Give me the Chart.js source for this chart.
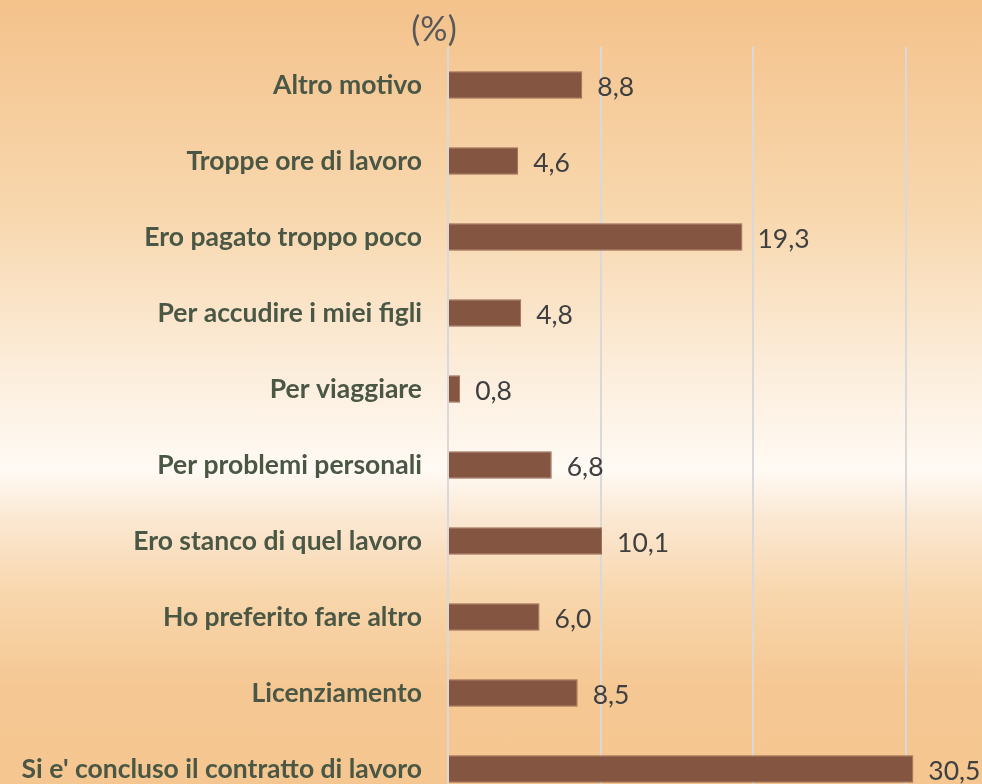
<!DOCTYPE html>
<html>
<head>
<meta charset="utf-8">
<script src="https://cdn.jsdelivr.net/npm/chart.js@4.4.1/dist/chart.umd.min.js"></script>
<style>
  html, body {
    margin: 0;
    padding: 0;
    width: 982px;
    height: 784px;
    overflow: hidden;
  }
  body {
    background: linear-gradient(to bottom,
      #F4C28B 0%,
      #F8D8AF 28%,
      #FCEEDD 48%,
      #FFFAF4 60%,
      #FBE8D3 66%,
      #F8D6AC 76%,
      #F5C792 88%,
      #F5C690 100%);
  }
  canvas { display: block; }
</style>
</head>
<body>
<canvas id="grafico" width="982" height="812"></canvas>
<script>
// dati
const categorie = [
  "Altro motivo",
  "Troppe ore di lavoro",
  "Ero pagato troppo poco",
  "Per accudire i miei figli",
  "Per viaggiare",
  "Per problemi personali",
  "Ero stanco di quel lavoro",
  "Ho preferito fare altro",
  "Licenziamento",
  "Si e' concluso il contratto di lavoro"
];
const valori = [8.8, 4.6, 19.3, 4.8, 0.8, 6.8, 10.1, 6.0, 8.5, 30.5];
const unita = "(%)";

const font = "Lato, 'Open Sans', sans-serif";

// etichette dei valori a destra delle barre + "(%)" in alto
const etichette = {
  id: "etichette",
  afterDatasetsDraw(chart) {
    const ctx = chart.ctx;
    const meta = chart.getDatasetMeta(0);
    ctx.save();
    ctx.font = "26.5px " + font;
    ctx.fillStyle = "#404040";
    ctx.textAlign = "left";
    ctx.textBaseline = "middle";
    meta.data.forEach((bar, i) => {
      const testo = valori[i].toFixed(1).replace(".", ",");
      ctx.fillText(testo, bar.x + 15, bar.y + 2);
    });
    ctx.font = "34px " + font;
    ctx.fillStyle = "#595959";
    ctx.textAlign = "center";
    ctx.fillText(unita, chart.chartArea.left - 14, chart.chartArea.top - 17);
    ctx.restore();
  }
};

const ctx = document.getElementById("grafico").getContext("2d");
new Chart(ctx, {
  type: "bar",
  data: {
    labels: categorie,
    datasets: [{
      data: valori,
      backgroundColor: "#845541",
      borderColor: "#9A6A55",
      borderWidth: 1,
      barPercentage: 0.36,
      categoryPercentage: 1
    }]
  },
  options: {
    indexAxis: "y",
    responsive: false,
    animation: false,
    layout: { padding: { top: 47, left: 0, right: 0, bottom: 5 } },
    plugins: {
      legend: { display: false },
      tooltip: { enabled: false }
    },
    scales: {
      x: {
        min: 0,
        max: 35,
        ticks: { display: false, stepSize: 10 },
        border: { display: false },
        grid: {
          drawTicks: false,
          lineWidth: 2,
          color: c => (c.tick && c.tick.value === 35 ? "rgba(0,0,0,0)" : "#D9D9D9")
        }
      },
      y: {
        afterFit: s => {
          s.width = 448;
          s.paddingTop = 0;
          s.paddingBottom = 0;
        },
        border: { display: false },
        grid: { display: false, drawTicks: false },
        ticks: {
          padding: 26,
          color: "#4A5745",
          font: { family: font, size: 26.5, weight: "bold" }
        }
      }
    }
  },
  plugins: [etichette]
});
</script>
</body>
</html>
